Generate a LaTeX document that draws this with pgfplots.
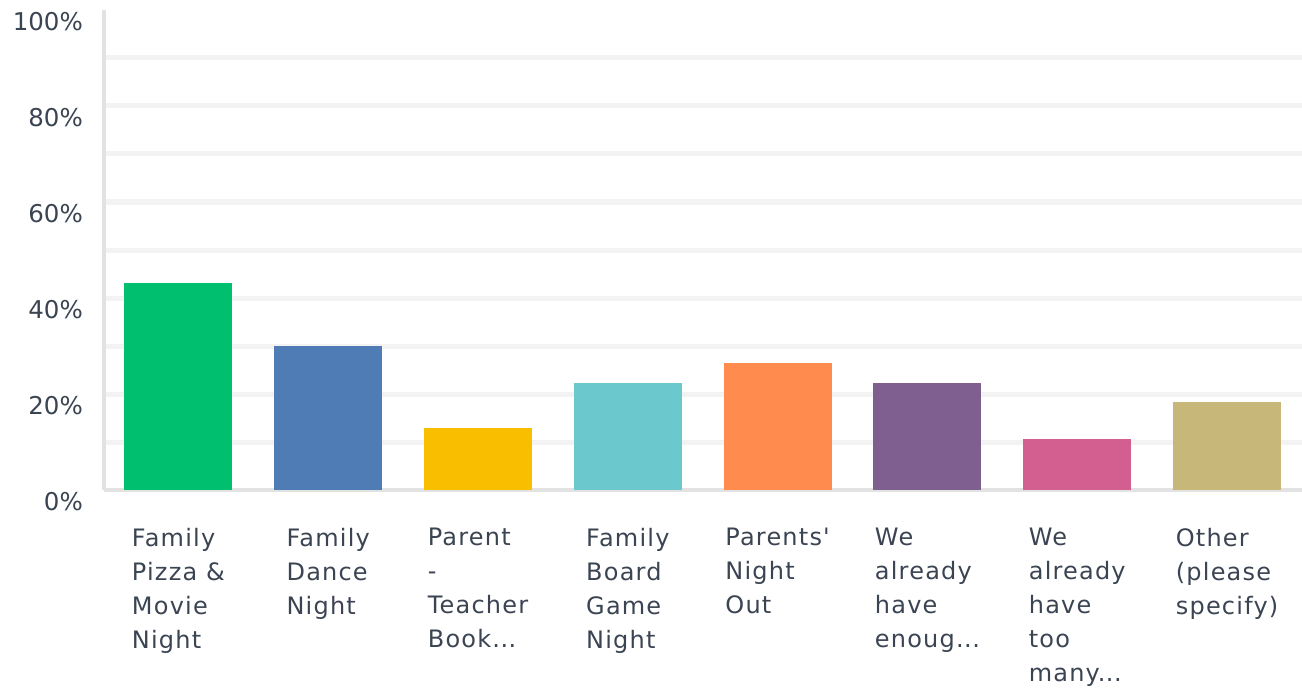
\documentclass[border=0pt]{standalone}
\usepackage{fontspec}
\setmainfont{DejaVu Sans}
\newfontfamily\lblfont{DejaVu Sans}[LetterSpace=5]
\usepackage{pgfplots}
\pgfplotsset{compat=1.18}
\definecolor{cgreen}{HTML}{00BF6F}
\definecolor{cblue}{HTML}{507CB6}
\definecolor{cyellow}{HTML}{F9BE00}
\definecolor{cteal}{HTML}{6BC8CD}
\definecolor{corange}{HTML}{FF8B4F}
\definecolor{cpurple}{HTML}{7F5F90}
\definecolor{cpink}{HTML}{D25F90}
\definecolor{ctan}{HTML}{C7B879}
\definecolor{txt}{HTML}{3B4452}
\definecolor{gridc}{HTML}{F3F3F3}
\definecolor{axc}{HTML}{E2E2E2}
\newcommand{\trunc}{.\kern0.5pt.\kern0.5pt.}
\begin{document}
\begin{tikzpicture}
\useasboundingbox (0,0) rectangle (1302pt,689pt);
\begin{axis}[
  at={(103.5pt,199pt)}, anchor=south west,
  scale only axis, width=1198.5pt, height=480pt,
  xmin=-0.5, xmax=7.5, ymin=0, ymax=100,
  axis x line*=bottom, axis y line*=left,
  axis line style={-, draw=axc, line width=4pt},
  major tick length=0pt, minor tick length=0pt,
  tick style={draw=none},
  ytick={0,20,40,60,80,100},
  yticklabels={0\%,20\%,40\%,60\%,80\%,100\%},
  minor ytick={10,20,30,40,50,60,70,80,90},
  yminorgrids=true,
  minor y grid style={draw=gridc, line width=5pt},
  yticklabel style={anchor=east, inner sep=0pt, xshift=-20.5pt, yshift=-11.5pt,
    font=\fontsize{24.5}{34}\selectfont, text=txt},
  xtick={0,1,2,3,4,5,6,7},
  xticklabels={{Family\\Pizza \&\\Movie\\Night},{Family\\Dance\\Night},{Parent\\-\\Teacher\\Book\trunc},{Family\\Board\\Game\\Night},{Parents\symbol{39}\\Night\\Out},{We\\already\\have\\enoug\trunc},{We\\already\\have\\too\\many\trunc},{Other\\(please\\specify)}},
  xticklabel style={align=left, anchor=north, inner sep=0pt, yshift=-38pt,
    font=\lblfont\fontsize{24}{34}\selectfont, text=txt},
  ybar, bar width=108pt, bar shift=0pt,
  clip=false,
]
\addplot[fill=cgreen, draw=none] coordinates {(0,43.1)};
\addplot[fill=cblue, draw=none] coordinates {(1,30.0)};
\addplot[fill=cyellow, draw=none] coordinates {(2,12.9)};
\addplot[fill=cteal, draw=none] coordinates {(3,22.3)};
\addplot[fill=corange, draw=none] coordinates {(4,26.5)};
\addplot[fill=cpurple, draw=none] coordinates {(5,22.3)};
\addplot[fill=cpink, draw=none] coordinates {(6,10.6)};
\addplot[fill=ctan, draw=none] coordinates {(7,18.3)};
\end{axis}
\end{tikzpicture}
\end{document}
